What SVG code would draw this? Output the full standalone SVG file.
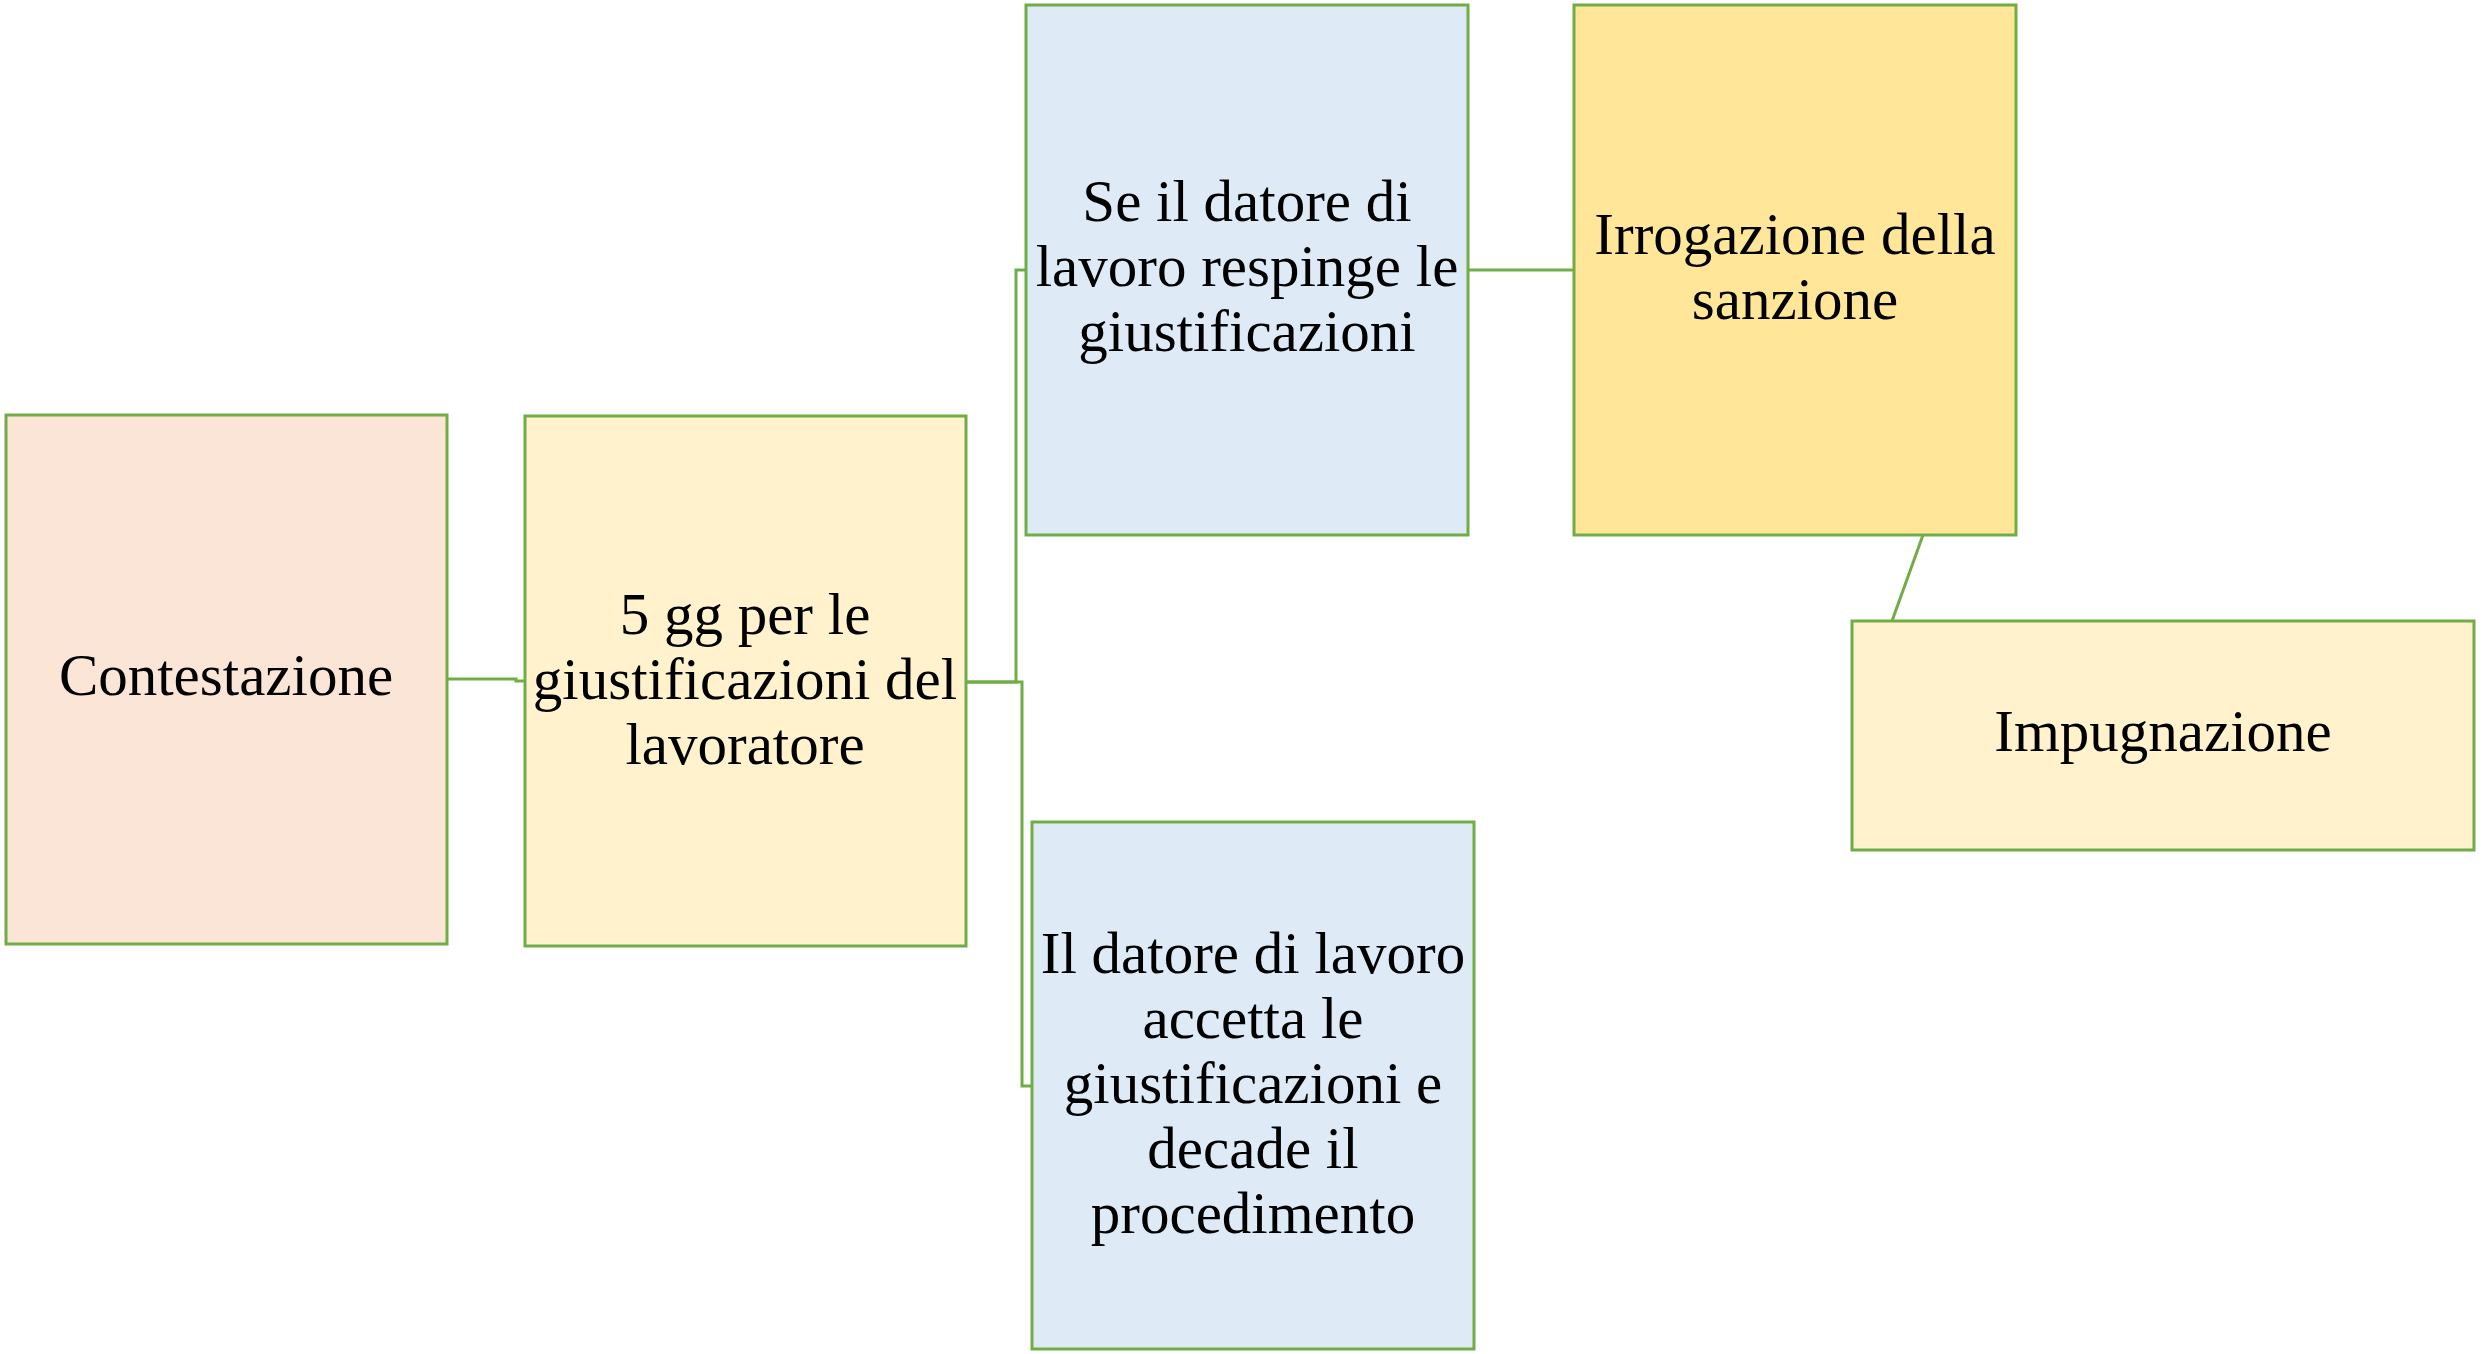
<svg xmlns="http://www.w3.org/2000/svg" width="2484" height="1354" viewBox="0 0 2484 1354">
<style>
.box{stroke:#70AD47;stroke-width:3}
.t{font-family:"Liberation Serif","DejaVu Serif",serif;font-size:59px;fill:#000;text-anchor:middle}
.c{fill:none;stroke:#70AD47;stroke-width:3}
</style>
<rect width="2484" height="1354" fill="#FFFFFF"/>
<g id="connectors">
<polyline class="c" points="447,679 516,679 516,681 525,681"/>
<polyline class="c" points="966,682 1016,682 1016,270 1026,270"/>
<polyline class="c" points="966,682 1022,682 1022,1086 1032,1086"/>
<line class="c" x1="1468" y1="270" x2="1574" y2="270"/>
<line class="c" x1="1923" y1="535" x2="1892" y2="621"/>
</g>
<g id="contestazione">
<rect class="box" x="6" y="415" width="441" height="529" fill="#FBE5D6"/>
<text class="t" x="226" y="695">Contestazione</text>
</g>
<g id="giustificazioni">
<rect class="box" x="525" y="416" width="441" height="530" fill="#FFF2CC"/>
<text class="t" x="745" y="634">5 gg per le</text>
<text class="t" x="745" y="699">giustificazioni del</text>
<text class="t" x="745" y="764">lavoratore</text>
</g>
<g id="respinge">
<rect class="box" x="1026" y="5" width="442" height="530" fill="#DEEBF7"/>
<text class="t" x="1247" y="221">Se il datore di</text>
<text class="t" x="1247" y="286">lavoro respinge le</text>
<text class="t" x="1247" y="351">giustificazioni</text>
</g>
<g id="irrogazione">
<rect class="box" x="1574" y="5" width="442" height="530" fill="#FFE699"/>
<text class="t" x="1795" y="254">Irrogazione della</text>
<text class="t" x="1795" y="319">sanzione</text>
</g>
<g id="impugnazione">
<rect class="box" x="1852" y="621" width="622" height="229" fill="#FFF2CC"/>
<text class="t" x="2163" y="751">Impugnazione</text>
</g>
<g id="accetta">
<rect class="box" x="1032" y="822" width="442" height="527" fill="#DEEBF7"/>
<text class="t" x="1253" y="973">Il datore di lavoro</text>
<text class="t" x="1253" y="1038">accetta le</text>
<text class="t" x="1253" y="1103">giustificazioni e</text>
<text class="t" x="1253" y="1168">decade il</text>
<text class="t" x="1253" y="1233">procedimento</text>
</g>
</svg>
